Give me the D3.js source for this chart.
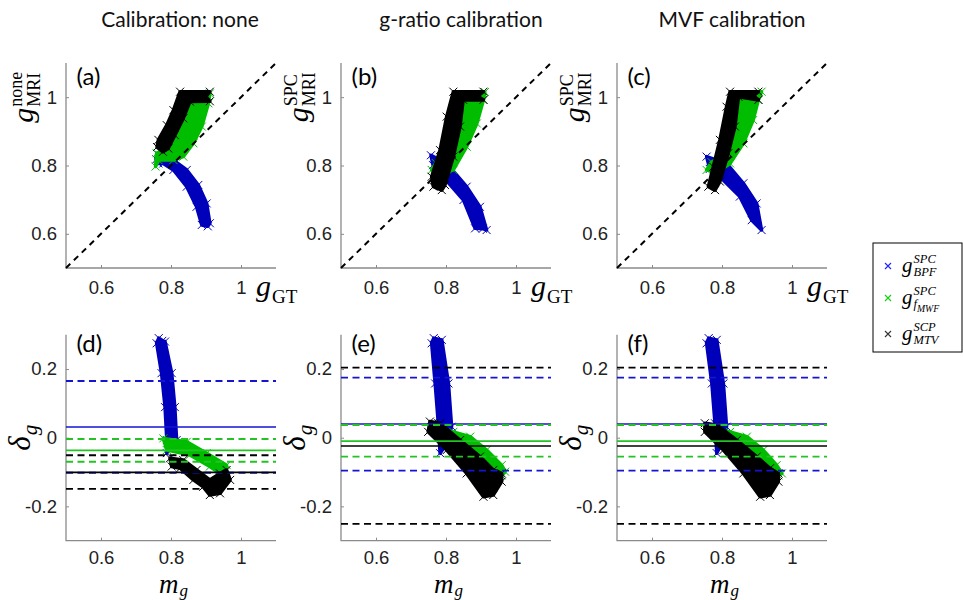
<!DOCTYPE html>
<html>
<head>
<meta charset="utf-8">
<script src="https://d3js.org/d3.v7.min.js"></script>
<style>
  body { margin: 0; background: #fff; }
</style>
</head>
<body>
<div id="chart"></div>
<script>
// values
const titles = ["Calibration: none", "g-ratio calibration", "MVF calibration"];
const tagsTop = ["(a)", "(b)", "(c)"];
const tagsBottom = ["(d)", "(e)", "(f)"];
const yLabelSup = ["none", "SPC", "SPC"];
const gDomain = [0.5, 1.1];
const dDomain = [-0.3, 0.3];
const gTicks = [0.6, 0.8, 1];
const dTicks = [-0.2, 0, 0.2];
const identity = [[0.5, 0.5], [1.1, 1.1]];

// outlines of the marker clouds, (g_GT, g_MRI), one per top panel
const topBPF = [
  [[0.764,0.831],[0.807,0.816],[0.845,0.787],[0.878,0.743],[0.902,0.689],[0.911,0.631],[0.905,0.622],[0.888,0.626],[0.873,0.679],[0.845,0.738],[0.807,0.787],[0.778,0.806],[0.764,0.806],[0.758,0.818]],
  [[0.757,0.830],[0.802,0.806],[0.859,0.738],[0.897,0.679],[0.916,0.611],[0.905,0.615],[0.883,0.616],[0.850,0.699],[0.792,0.767],[0.763,0.801]],
  [[0.756,0.826],[0.813,0.806],[0.861,0.748],[0.899,0.689],[0.913,0.611],[0.885,0.640],[0.851,0.709],[0.794,0.767],[0.765,0.790]]
];
const topMWF = [
  [[0.911,1.011],[0.907,0.982],[0.888,0.914],[0.864,0.865],[0.835,0.826],[0.807,0.816],[0.764,0.816],[0.756,0.797],[0.759,0.836],[0.792,0.850],[0.811,0.889],[0.835,0.938],[0.854,0.987],[0.880,1.000]],
  [[0.911,1.015],[0.907,0.992],[0.888,0.923],[0.859,0.855],[0.821,0.787],[0.792,0.777],[0.759,0.787],[0.771,0.807],[0.811,0.904],[0.834,0.992]],
  [[0.913,1.016],[0.904,0.992],[0.889,0.933],[0.861,0.865],[0.823,0.806],[0.789,0.782],[0.756,0.787],[0.770,0.810],[0.818,0.836],[0.837,0.914],[0.847,1.000]]
];
const topMTV = [
  [[0.826,1.016],[0.911,1.016],[0.900,1.002],[0.911,0.988],[0.854,0.987],[0.835,0.938],[0.811,0.889],[0.792,0.850],[0.777,0.840],[0.760,0.854],[0.764,0.875],[0.788,0.918],[0.807,0.962]],
  [[0.821,1.016],[0.907,1.016],[0.891,1.003],[0.907,0.992],[0.849,0.992],[0.840,0.914],[0.821,0.826],[0.797,0.743],[0.788,0.728],[0.764,0.738],[0.759,0.767],[0.783,0.845],[0.802,0.943]],
  [[0.823,1.016],[0.904,1.016],[0.890,1.004],[0.904,0.992],[0.847,1.001],[0.837,0.914],[0.818,0.836],[0.794,0.753],[0.780,0.728],[0.761,0.738],[0.775,0.796],[0.794,0.875],[0.813,0.972]]
];

// outlines of the Bland-Altman clouds, (m_g, delta_g), one per bottom panel
const botBPF = [
  [[0.759,0.275],[0.765,0.290],[0.775,0.282],[0.783,0.280],[0.802,0.188],[0.811,0.089],[0.816,-0.007],[0.800,-0.020],[0.788,-0.045],[0.788,-0.007],[0.783,0.089],[0.773,0.188]],
  [[0.759,0.275],[0.765,0.290],[0.788,0.285],[0.807,0.158],[0.816,0.032],[0.800,-0.020],[0.783,-0.045],[0.778,0.042],[0.769,0.158]],
  [[0.756,0.275],[0.762,0.290],[0.785,0.285],[0.804,0.158],[0.813,0.032],[0.797,-0.020],[0.785,-0.045],[0.780,0.042],[0.771,0.158]]
];
const botMWF = [
  [[0.778,-0.002],[0.845,-0.012],[0.902,-0.045],[0.959,-0.080],[0.955,-0.095],[0.940,-0.104],[0.911,-0.084],[0.854,-0.050],[0.788,-0.036]],
  [[0.821,0.017],[0.869,0.003],[0.916,-0.036],[0.959,-0.080],[0.969,-0.099],[0.959,-0.110],[0.935,-0.110],[0.897,-0.075],[0.840,-0.025],[0.783,0.020]],
  [[0.823,0.017],[0.871,0.003],[0.918,-0.036],[0.956,-0.080],[0.971,-0.104],[0.961,-0.110],[0.937,-0.110],[0.899,-0.075],[0.842,-0.025],[0.785,0.020]]
];
const botMTV = [
  [[0.797,-0.060],[0.835,-0.065],[0.873,-0.094],[0.911,-0.123],[0.940,-0.104],[0.959,-0.094],[0.969,-0.123],[0.940,-0.162],[0.911,-0.167],[0.892,-0.143],[0.864,-0.123],[0.826,-0.089],[0.802,-0.084]],
  [[0.754,0.047],[0.783,0.042],[0.840,-0.007],[0.897,-0.055],[0.935,-0.094],[0.959,-0.104],[0.959,-0.128],[0.935,-0.167],[0.907,-0.172],[0.859,-0.104],[0.802,-0.036],[0.749,0.017]],
  [[0.751,0.042],[0.785,0.037],[0.842,-0.007],[0.899,-0.055],[0.937,-0.089],[0.961,-0.104],[0.961,-0.128],[0.937,-0.167],[0.909,-0.172],[0.861,-0.104],[0.804,-0.036],[0.751,0.017]]
];

// mean bias (solid) and limits of agreement (dashed), per bottom panel
const biasBPF = [0.031, 0.040, 0.040];
const loaBPF = [[-0.102, 0.165], [-0.096, 0.175], [-0.096, 0.175]];
const biasMWF = [-0.037, -0.010, -0.010];
const loaMWF = [[-0.070, -0.004], [-0.055, 0.037], [-0.055, 0.037]];
const biasMTV = [-0.101, -0.024, -0.024];
const loaMTV = [[-0.149, -0.051], [-0.251, 0.204], [-0.251, 0.204]];

const legendSup = ["SPC", "SPC", "SCP"];
const legendSub = ["BPF", "f", "MTV"];

// layout
const W = 963, H = 600;
const lefts = [66, 341, 617];
const pw = 210;
const topRow = [63, 268];
const botRow = [334.7, 540.7];
const cBlue = "#0000bb", cGreen = "#00bd00", cBlack = "#000000";
const lBlue = "#1414d2", lGreen = "#22c322";
const axisColor = "#8a8a8a";
const tickFont = "'Liberation Sans', Arial, sans-serif";
const textFont = "Lato, 'Open Sans', sans-serif";
const mathFont = "'Liberation Serif', 'DejaVu Serif', serif";

const svg = d3.select("#chart").append("svg")
  .attr("width", W).attr("height", H);
svg.append("rect").attr("width", W).attr("height", H).attr("fill", "#fff");

const outline = (x, y) => d3.line().x(d => x(d[0])).y(d => y(d[1])).curve(d3.curveLinearClosed);

// draw a marker cloud: filled outline plus "x" markers on its vertices
function cloud(g, d, x, y, c) {
  g.append("path").attr("d", outline(x, y)(d)).attr("fill", c)
    .attr("stroke", c).attr("stroke-width", 3.5).attr("stroke-linejoin", "round");
  g.selectAll(null).data(d).enter().append("path")
    .attr("d", p => `M${x(p[0]) - 4},${y(p[1]) - 4}l8,8M${x(p[0]) - 4},${y(p[1]) + 4}l8,-8`)
    .attr("stroke", c).attr("stroke-width", 1);
}

// base symbol followed by stacked super/subscripts; returns group + width
function scripted(parent, base, sup, sub, o) {
  const g = parent.append("g");
  const b = g.append("text")
    .attr("font-family", mathFont).attr("font-style", "italic")
    .attr("font-size", o.size).attr("fill", "#000").text(base);
  const bw = b.node().getComputedTextLength() + (o.gap || 1);
  let w = bw;
  if (sup) {
    const t = g.append("text").attr("x", bw).attr("y", -o.size * (o.supRise || 0.38))
      .attr("font-family", mathFont).attr("font-style", o.scriptStyle)
      .attr("font-size", o.small).attr("fill", "#000").text(sup);
    w = Math.max(w, bw + t.node().getComputedTextLength());
  }
  if (sub) {
    const t = g.append("text").attr("x", bw).attr("y", o.size * (o.subDrop || 0.22))
      .attr("font-family", mathFont).attr("font-style", o.scriptStyle)
      .attr("font-size", o.small).attr("fill", "#000");
    t.append("tspan").text(sub);
    if (o.subsub) {
      t.append("tspan").attr("dy", o.small * 0.3).attr("font-size", o.small * 0.78).text(o.subsub);
    }
    w = Math.max(w, bw + t.node().getComputedTextLength());
  }
  return { g, w };
}

function axes(g, x, y, ticks, yTicks, yFmt, pad) {
  g.append("g")
    .attr("transform", `translate(0,${y.range()[0]})`)
    .call(d3.axisBottom(x).tickValues(ticks).tickSize(-3).tickPadding(pad).tickFormat(d3.format("")))
    .call(a => a.selectAll(".tick line").attr("stroke", axisColor))
    .call(a => a.selectAll("text").attr("font-family", tickFont).attr("font-size", 18.5).attr("fill", "#222").attr("dy", "0.95em"));
  g.append("g")
    .attr("transform", `translate(${x.range()[0]},0)`)
    .call(d3.axisLeft(y).tickValues(yTicks).tickSize(-3).tickPadding(9).tickFormat(yFmt))
    .call(a => a.selectAll(".tick line").attr("stroke", axisColor))
    .call(a => a.selectAll("text").attr("font-family", tickFont).attr("font-size", 18.5).attr("fill", "#222"));
  g.selectAll(".domain").remove();
  g.append("path")
    .attr("d", `M${x.range()[0]},${y.range()[1]}V${y.range()[0]}H${x.range()[1]}`)
    .attr("fill", "none").attr("stroke", axisColor).attr("stroke-width", 1.3);
}

const fmt = d => (d === 0 ? "0" : String(d)).replace("\u2212", "-");

lefts.forEach((left, i) => {
  // ----- top row: estimated vs ground truth -----
  const x = d3.scaleLinear().domain(gDomain).range([left, left + pw]);
  const y = d3.scaleLinear().domain(gDomain).range(topRow.slice().reverse());
  const gt = svg.append("g");

  svg.append("text").attr("x", [180, 461, 732][i]).attr("y", 27)
    .attr("text-anchor", "middle").attr("font-family", textFont)
    .attr("font-size", 21).attr("fill", "#111").text(titles[i]);

  axes(gt, x, y, gTicks, gTicks, d3.format(""), 8);

  cloud(gt, topBPF[i], x, y, cBlue);
  cloud(gt, topMWF[i], x, y, cGreen);
  cloud(gt, topMTV[i], x, y, cBlack);

  gt.append("path")
    .attr("d", d3.line().x(d => x(d[0])).y(d => y(d[1]))(identity))
    .attr("fill", "none").attr("stroke", "#000").attr("stroke-width", 2)
    .attr("stroke-dasharray", "6,5");

  gt.append("text").attr("x", x(0.53)).attr("y", y(1.035))
    .attr("font-family", textFont).attr("font-size", 24).attr("fill", "#000").text(tagsTop[i]);

  // x label g_GT
  const xl = scripted(gt, "g", null, "GT", { size: 30, small: 19, scriptStyle: "normal", gap: 0 });
  xl.g.attr("transform", `translate(${left + pw - 20},${topRow[1] + 28})`);

  // y label g^{...}_{MRI}
  const yl = scripted(gt, "g", yLabelSup[i], "MRI", { size: 30, small: 18, scriptStyle: "normal", gap: 1 });
  yl.g.attr("transform", `translate(${left - 33},${y(1) + yl.w / 2}) rotate(-90)`);

  // ----- bottom row: Bland-Altman -----
  const xb = d3.scaleLinear().domain(gDomain).range([left, left + pw]);
  const yb = d3.scaleLinear().domain(dDomain).range(botRow.slice().reverse());
  const gb = svg.append("g");
  axes(gb, xb, yb, gTicks, dTicks, fmt, 6);

  cloud(gb, botBPF[i], xb, yb, cBlue);
  cloud(gb, botMWF[i], xb, yb, cGreen);
  cloud(gb, botMTV[i], xb, yb, cBlack);

  const hline = (v, c, dashed, w) => gb.append("line")
    .attr("x1", xb(gDomain[0])).attr("x2", xb(gDomain[1]))
    .attr("y1", yb(v)).attr("y2", yb(v))
    .attr("stroke", c).attr("stroke-width", w)
    .attr("stroke-dasharray", dashed ? "7,4.5" : null);

  [[biasBPF, loaBPF, lBlue], [biasMWF, loaMWF, lGreen], [biasMTV, loaMTV, cBlack]].forEach(([bias, loa, c]) => {
    hline(bias[i], c, false, 1.6);
    loa[i].forEach(v => hline(v, c, true, 1.9));
  });

  gb.append("text").attr("x", xb(0.53)).attr("y", yb(0.25))
    .attr("font-family", textFont).attr("font-size", 24).attr("fill", "#000").text(tagsBottom[i]);

  const ml = scripted(gb, "m", null, "g", { size: 27, small: 17, scriptStyle: "italic", gap: 0, subDrop: 0.12 });
  ml.g.attr("transform", `translate(${xb(0.8) - 12},${botRow[1] + 52})`);

  const dl = scripted(gb, "\u03b4", null, "g", { size: 31, small: 21, scriptStyle: "italic", gap: 0 });
  dl.g.attr("transform", `translate(${left - 36},${yb(0) + dl.w / 2}) rotate(-90)`);
});

// legend
const lg = svg.append("g");
lg.append("rect").attr("x", 873).attr("y", 243).attr("width", 89).attr("height", 109)
  .attr("fill", "#fff").attr("stroke", "#000").attr("stroke-width", 1);
const legendColors = ["#2020ff", "#10d010", "#333"];
const legendY = [266, 298, 334];
legendY.forEach((ly, k) => {
  lg.append("path")
    .attr("d", `M${885},${ly - 3}l6,6M${885},${ly + 3}l6,-6`)
    .attr("stroke", legendColors[k]).attr("stroke-width", 1.1);
  const e = scripted(lg, "g", legendSup[k], legendSub[k], {
    size: 21, small: 12.5, scriptStyle: "italic", gap: 0, supRise: 0.44, subDrop: 0.2,
    subsub: k === 1 ? "MWF" : null
  });
  e.g.attr("transform", `translate(902,${ly + 6})`);
});
</script>
</body>
</html>
